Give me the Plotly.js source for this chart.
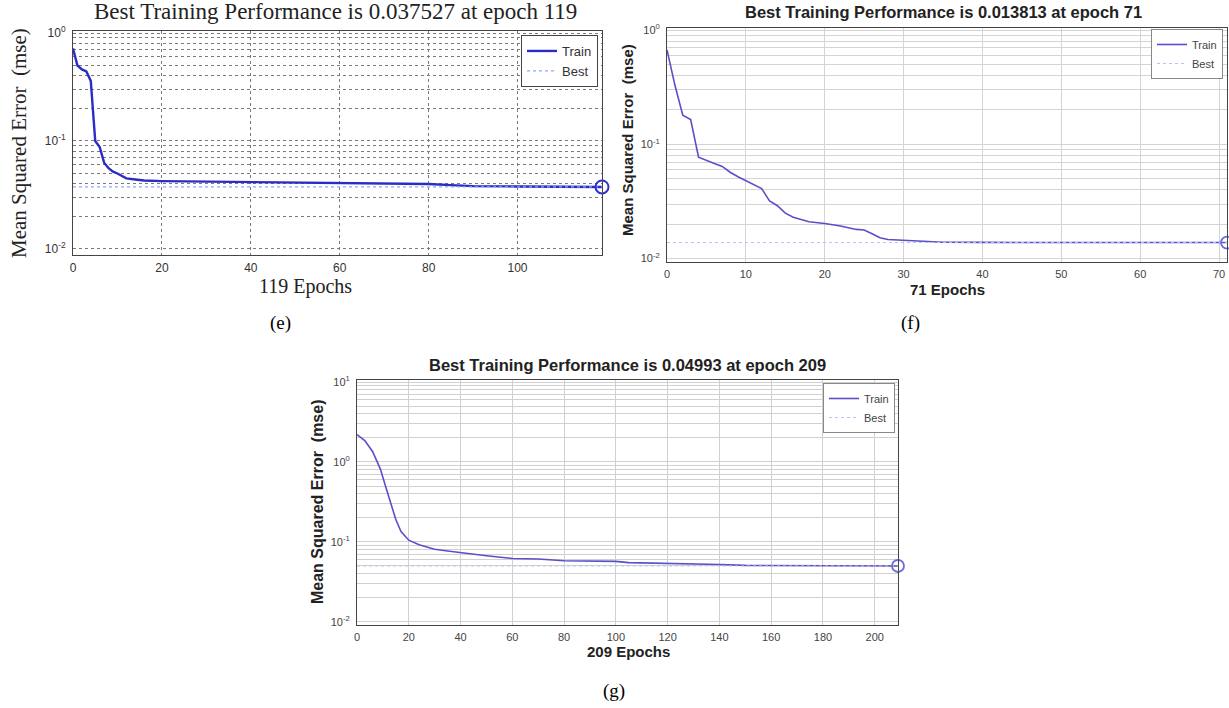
<!DOCTYPE html>
<html>
<head>
<meta charset="utf-8">
<script src="https://cdn.plot.ly/plotly-3.0.1.min.js"></script>
<style>html,body{margin:0;padding:0;background:#fff;}#chart{width:1229px;height:708px;}</style>
</head>
<body>
<div id="chart"></div>
<script>
// ---------- Data ----------
// Panel (e)
const eEpochs = [0,1,2,3,4,5,6,7,8,9,10,11,12,14,16,20,30,40,50,60,70,80,85,90,100,110,119];
const eTrain  = [0.72,0.5,0.46,0.44,0.36,0.1,0.088,0.063,0.056,0.052,0.05,0.047,0.045,0.044,0.043,0.0425,0.042,0.0418,0.0412,0.0405,0.0402,0.0399,0.039,0.0382,0.0379,0.0377,0.037527];
const eBestEpoch = 119, eBestValue = 0.037527;
const eTitle = "Best Training Performance is 0.037527 at epoch 119";
const eXLabel = "119 Epochs";
const eXTicks = [0,20,40,60,80,100];

// Panel (f)
const fEpochs = [0,1,2,3,4,5,6,7,8,9,10,11,12,13,14,15,16,17,18,20,22,24,25,26,27,28,30,32,35,40,50,60,71];
const fTrain  = [0.67,0.33,0.18,0.165,0.077,0.072,0.068,0.064,0.057,0.052,0.048,0.044,0.041,0.032,0.029,0.025,0.023,0.022,0.021,0.0203,0.0193,0.018,0.0178,0.0165,0.0152,0.0147,0.0145,0.0141,0.0139,0.01385,0.01383,0.01382,0.013813];
const fBestEpoch = 71, fBestValue = 0.013813;
const fTitle = "Best Training Performance is 0.013813 at epoch 71";
const fXLabel = "71 Epochs";
const fXTicks = [0,10,20,30,40,50,60,70];

// Panel (g)
const gEpochs = [0,3,6,9,11,13,15,17,19,20,24,30,35,40,50,60,70,80,100,105,120,135,140,150,160,190,195,209];
const gTrain  = [2.2,1.85,1.35,0.82,0.5,0.3,0.19,0.135,0.112,0.105,0.092,0.081,0.077,0.073,0.067,0.062,0.061,0.058,0.057,0.055,0.054,0.053,0.052,0.0508,0.0505,0.0503,0.0499,0.04993];
const gBestEpoch = 209, gBestValue = 0.04993;
const gTitle = "Best Training Performance is 0.04993 at epoch 209";
const gXLabel = "209 Epochs";
const gXTicks = [0,20,40,60,80,100,120,140,160,180,200];

const yLabel = "Mean Squared Error  (mse)";
const panelLabels = ["(e)","(f)","(g)"];

// ---------- Helpers ----------
function logGrid(minExp, maxExp){
  const vals=[], txt=[], minor=[];
  for(let e=minExp;e<=maxExp;e++){
    vals.push(Math.pow(10,e));
    txt.push("10<sup>"+e+"</sup>");
    if(e<maxExp) for(let m=2;m<=9;m++) minor.push(m*Math.pow(10,e));
  }
  return {vals, txt, minor};
}
const W=1229,H=708;
const px = x => x/W;
const py = y => 1 - y/H;

const eGrid = logGrid(-2,0), fGrid = logGrid(-2,0), gGrid = logGrid(-2,1);

const bestColor = "#8fa8ff";

const traces = [
  // (e)
  {x:eEpochs,y:eTrain,type:"scatter",mode:"lines",name:"Train",xaxis:"x",yaxis:"y",line:{color:"#2b2bc8",width:2.4},legend:"legend"},
  {x:[0,eBestEpoch],y:[eBestValue,eBestValue],type:"scatter",mode:"lines",name:"Best",xaxis:"x",yaxis:"y",line:{color:bestColor,width:1.2,dash:"dot"},legend:"legend"},
  {x:[eBestEpoch],y:[eBestValue],type:"scatter",mode:"markers",showlegend:false,xaxis:"x",yaxis:"y",cliponaxis:false,marker:{symbol:"circle-open",size:13,color:"#3030d0",line:{width:2}}},
  // (f)
  {x:fEpochs,y:fTrain,type:"scatter",mode:"lines",name:"Train",xaxis:"x2",yaxis:"y2",line:{color:"#5a4fc8",width:1.6},legend:"legend2"},
  {x:[0,fBestEpoch],y:[fBestValue,fBestValue],type:"scatter",mode:"lines",name:"Best",xaxis:"x2",yaxis:"y2",line:{color:"#b8c4f0",width:1,dash:"dot"},legend:"legend2"},
  {x:[fBestEpoch],y:[fBestValue],type:"scatter",mode:"markers",showlegend:false,xaxis:"x2",yaxis:"y2",cliponaxis:false,marker:{symbol:"circle-open",size:12,color:"#6a6ad8",line:{width:1.8}}},
  // (g)
  {x:gEpochs,y:gTrain,type:"scatter",mode:"lines",name:"Train",xaxis:"x3",yaxis:"y3",line:{color:"#5a4fc8",width:1.6},legend:"legend3"},
  {x:[0,gBestEpoch],y:[gBestValue,gBestValue],type:"scatter",mode:"lines",name:"Best",xaxis:"x3",yaxis:"y3",line:{color:"#b8c4f0",width:1,dash:"dot"},legend:"legend3"},
  {x:[gBestEpoch],y:[gBestValue],type:"scatter",mode:"markers",showlegend:false,xaxis:"x3",yaxis:"y3",cliponaxis:false,marker:{symbol:"circle-open",size:12,color:"#6a6ad8",line:{width:1.8}}}
];

const tickFontE = {family:"Arial, Liberation Sans, sans-serif",size:12,color:"#333"};
const tickFontFG = {family:"Arial, Liberation Sans, sans-serif",size:11,color:"#444"};

function xAx(domain, anchor, range, ticks, grid, gridcolor, font){
  return {domain, anchor, range, tickmode:"array", tickvals:ticks, ticktext:ticks.map(String),
    showgrid:true, gridcolor, griddash:grid, gridwidth:1, zeroline:false,
    showline:true, mirror:true, linecolor:"#444", linewidth:1, ticks:"", tickfont:font, ticklabelstandoff:2};
}
function yAx(domain, anchor, range, g, grid, gridcolor, font){
  return {domain, anchor, type:"log", range, tickmode:"array", tickvals:g.vals, ticktext:g.txt,
    showgrid:true, gridcolor, griddash:grid, gridwidth:1, zeroline:false,
    minor:{tickmode:"array", tickvals:g.minor, showgrid:true, gridcolor, griddash:grid, gridwidth:1, ticks:""},
    showline:true, mirror:true, linecolor:"#444", linewidth:1, ticks:"", tickfont:font, ticklabelstandoff:4};
}

const serif = "Times New Roman, Liberation Serif, serif";
const sans = "Arial, Liberation Sans, sans-serif";

function ann(text, x, y, font, angle){
  const a = {text, xref:"paper", yref:"paper", x:px(x), y:py(y), xanchor:"center", yanchor:"middle", showarrow:false, font};
  if(angle!==undefined) a.textangle = angle;
  return a;
}

const layout = {
  width:W, height:H, margin:{l:0,r:0,t:0,b:0},
  paper_bgcolor:"#fff", plot_bgcolor:"#fff", showlegend:true,
  xaxis:  xAx([px(73),px(602)], "y",  [0,119], eXTicks, "dot", "#7a7a7a", tickFontE),
  yaxis:  yAx([py(255),py(31)], "x",  [-2.056,0.0185], eGrid, "dot", "#7a7a7a", tickFontE),
  xaxis2: xAx([px(667),px(1227)], "y2", [0,71], fXTicks, "solid", "#d4d4d4", tickFontFG),
  yaxis2: yAx([py(262),py(28)], "x2", [-2.03,0.018], fGrid, "solid", "#d4d4d4", tickFontFG),
  xaxis3: xAx([px(357),px(898)], "y3", [0,209], gXTicks, "solid", "#d0d0d0", tickFontFG),
  yaxis3: yAx([py(625),py(380)], "x3", [-2.04,1.025], gGrid, "solid", "#d0d0d0", tickFontFG),
  legend:  {x:px(598), xanchor:"right", y:py(35), yanchor:"top", bgcolor:"#fff", bordercolor:"#444", borderwidth:1, font:{family:sans,size:13,color:"#333"}, tracegroupgap:0, itemwidth:30},
  legend2: {x:px(1223), xanchor:"right", y:py(29), yanchor:"top", bgcolor:"#fff", bordercolor:"#888", borderwidth:1, font:{family:sans,size:11,color:"#444"}, tracegroupgap:0, itemwidth:30},
  legend3: {x:px(895), xanchor:"right", y:py(383), yanchor:"top", bgcolor:"#fff", bordercolor:"#888", borderwidth:1, font:{family:sans,size:11,color:"#444"}, tracegroupgap:0, itemwidth:30},
  annotations: [
    ann(eTitle, 335, 12, {family:serif,size:23,color:"#222"}),
    ann(eXLabel, 305, 286, {family:serif,size:20,color:"#222"}),
    ann(yLabel, 19, 143, {family:serif,size:21,color:"#222"}, -90),
    ann("<b>"+fTitle+"</b>", 944, 12, {family:sans,size:16.5,color:"#222"}),
    ann("<b>"+fXLabel+"</b>", 947, 289, {family:sans,size:15,color:"#222"}),
    ann("<b>"+yLabel+"</b>", 627, 140, {family:sans,size:15,color:"#222"}, -90),
    ann("<b>"+gTitle+"</b>", 627, 365, {family:sans,size:16.5,color:"#222"}),
    ann("<b>"+gXLabel+"</b>", 628, 651, {family:sans,size:15,color:"#222"}),
    ann("<b>"+yLabel+"</b>", 317, 502, {family:sans,size:16,color:"#222"}, -90),
    ann(panelLabels[0], 280, 323, {family:serif,size:19,color:"#000"}),
    ann(panelLabels[1], 910, 323, {family:serif,size:19,color:"#000"}),
    ann(panelLabels[2], 614, 691, {family:serif,size:19,color:"#000"})
  ]
};

Plotly.newPlot("chart", traces, layout, {staticPlot:true, displayModeBar:false});
</script>
</body>
</html>
